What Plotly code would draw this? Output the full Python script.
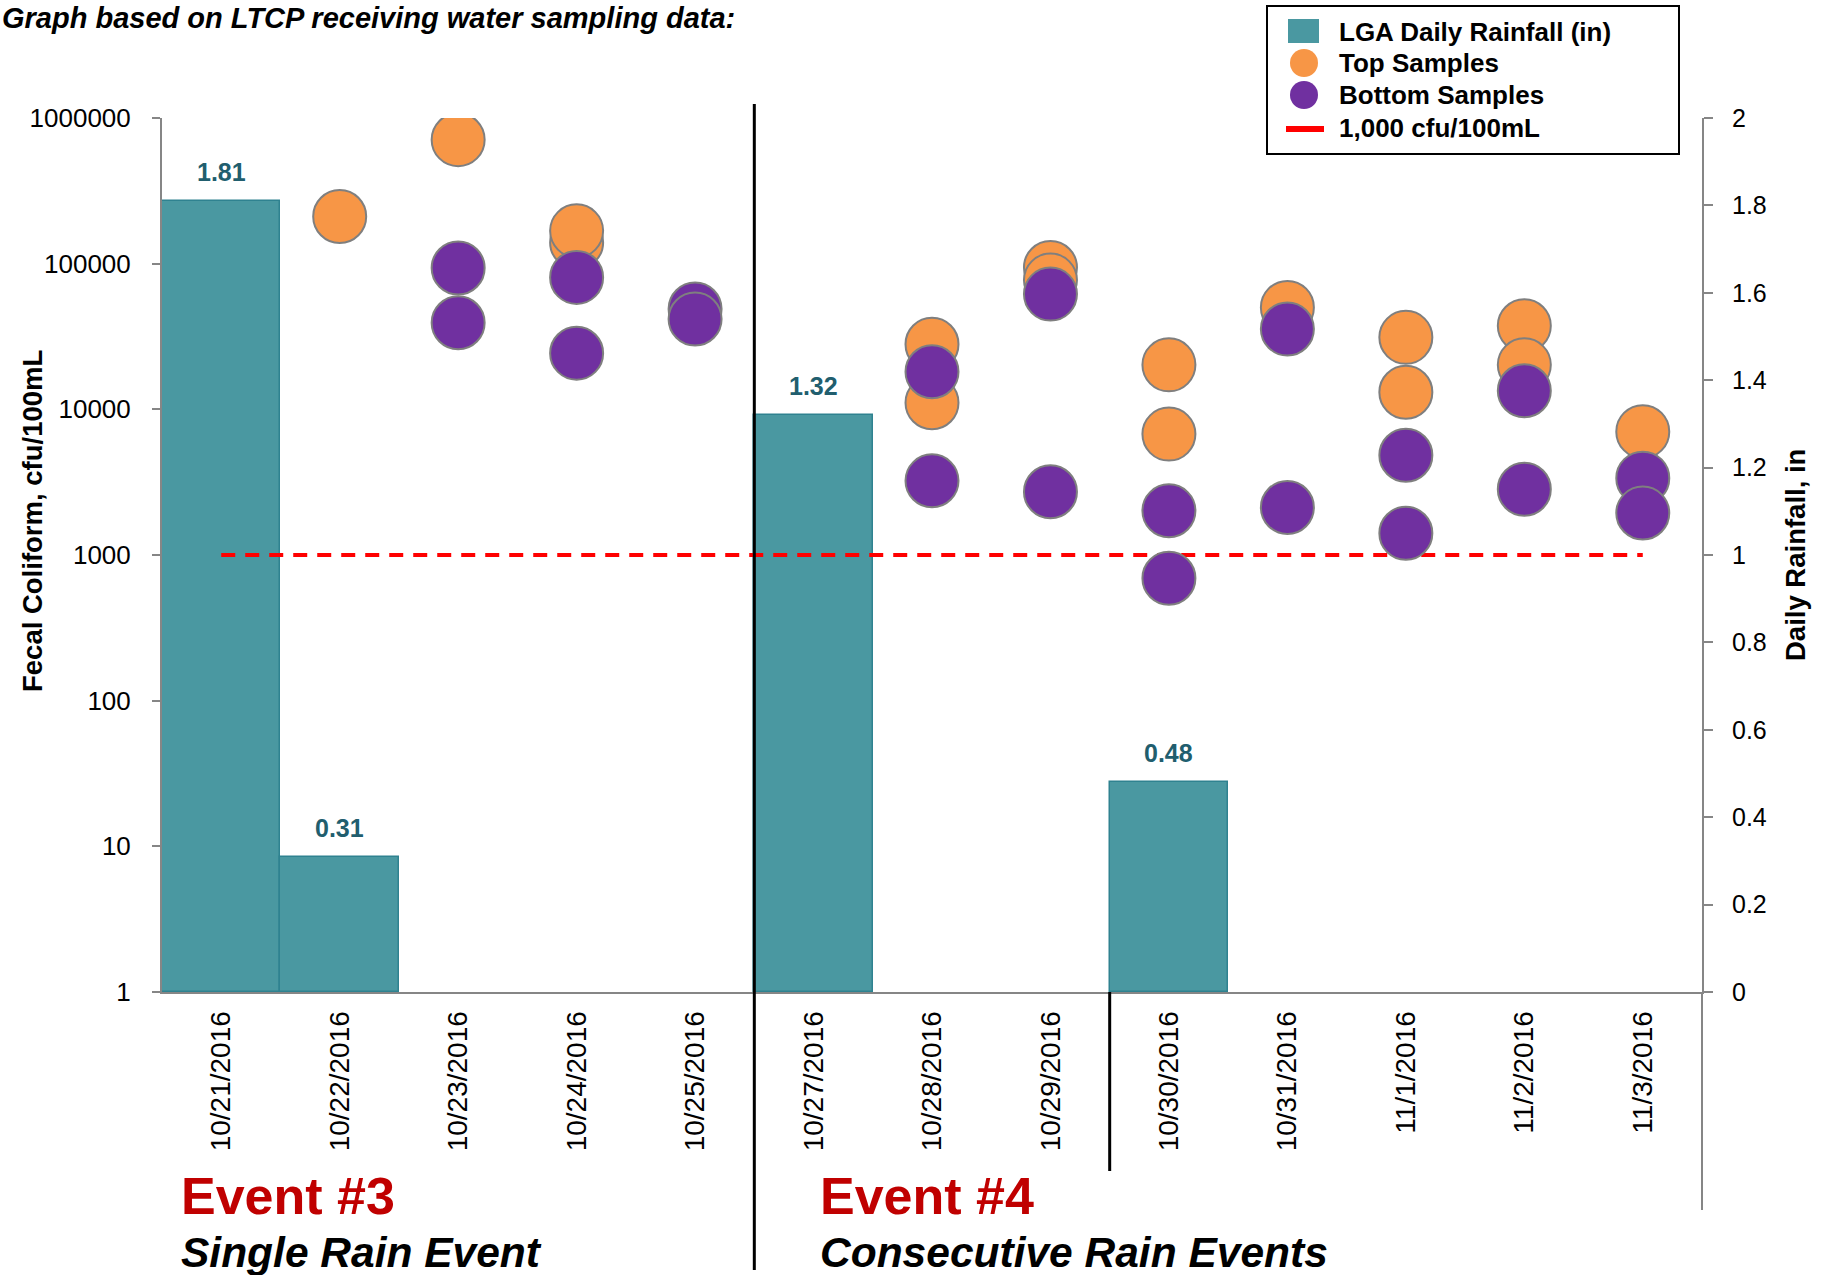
import plotly.graph_objects as go

# ---- data -------------------------------------------------------------
dates = ["10/21/2016", "10/22/2016", "10/23/2016", "10/24/2016", "10/25/2016",
         "10/27/2016", "10/28/2016", "10/29/2016", "10/30/2016", "10/31/2016",
         "11/1/2016", "11/2/2016", "11/3/2016"]
rainfall_in = [1.81, 0.31, 0, 0, 0, 1.32, 0, 0, 0.48, 0, 0, 0, 0]

# fecal coliform, cfu/100mL (two top and two bottom samples per day at most)
top_first = [None, 211000, 710000, 140000, None, None, 28000, 94200, 20200, 50100, 31200, 37500, 7030]
top_second = [None, None, None, 168000, None, None, 11100, 77100, 6760, None, 13100, 20200, None]
bottom_first = [None, None, 93300, 80500, 48800, None, 18100, 61800, 2010, 35600, 4840, 13400, 3370]
bottom_second = [None, None, 39300, 24300, 41700, None, 3230, 2720, 693, 2120, 1410, 2830, 1940]
threshold_cfu = 1000

log_ticks = [1, 10, 100, 1000, 10000, 100000, 1000000]
log_tick_text = ["1", "10", "100", "1000", "10000", "100000", "1000000"]

# ---- page geometry (pixels) ------------------------------------------------
W, H = 1828, 1275
L, R, T, B = 162, 1702, 118, 992


def px_x(x):
    return (x - L) / (R - L)


def px_y(y):
    return (B - y) / (B - T)


FONT = "Liberation Sans, Arial, sans-serif"
TEAL = "#4A98A1"
TEAL_EDGE = "#2F8290"
ORANGE = "#F79646"
PURPLE = "#7030A0"
AXIS_GREY = "#868686"

fig = go.Figure()

# rainfall bars (right axis); dry days get no bar outline on the baseline
fig.add_trace(go.Bar(
    x=dates, y=[v if v > 0 else None for v in rainfall_in],
    name="LGA Daily Rainfall (in)",
    marker=dict(color=TEAL, line=dict(color=TEAL_EDGE, width=1.5)),
    width=1.0, yaxis="y", showlegend=False,
))

# 1,000 cfu/100mL reference line
fig.add_trace(go.Scatter(
    x=dates, y=[threshold_cfu] * len(dates), yaxis="y2", mode="lines",
    name="1,000 cfu/100mL", line=dict(color="#FF0000", width=4, dash="14px,10px"),
    showlegend=False,
))

marker_outline = dict(color="#7F7F7F", width=2)
fig.add_trace(go.Scatter(
    x=dates + dates, y=top_first + top_second, yaxis="y2", mode="markers",
    name="Top Samples",
    marker=dict(size=53, color=ORANGE, line=marker_outline),
    showlegend=False,
))
fig.add_trace(go.Scatter(
    x=dates + dates, y=bottom_first + bottom_second, yaxis="y2", mode="markers",
    name="Bottom Samples",
    marker=dict(size=53, color=PURPLE, line=marker_outline),
    showlegend=False,
))

annotations = []

# rainfall value labels above the bars
for d, v in zip(dates, rainfall_in):
    if v > 0:
        annotations.append(dict(
            x=d, y=v, xref="x", yref="y", text=f"<b>{v:.2f}</b>", showarrow=False,
            yshift=29, font=dict(family=FONT, size=25, color="#215E6E"),
        ))

# title and axis titles
annotations.append(dict(
    x=px_x(0), y=px_y(18), xref="paper", yref="paper", xanchor="left", yanchor="middle",
    text="<b><i>Graph based on LTCP receiving water sampling data:</i></b>", showarrow=False,
    font=dict(family=FONT, size=29, color="black"),
))
annotations.append(dict(
    x=px_x(32), y=px_y(521), xref="paper", yref="paper", xanchor="center", yanchor="middle",
    text="<b>Fecal Coliform, cfu/100mL</b>", textangle=-90, showarrow=False,
    font=dict(family=FONT, size=27.5, color="black"),
))
annotations.append(dict(
    x=px_x(1795), y=px_y(555), xref="paper", yref="paper", xanchor="center", yanchor="middle",
    text="<b>Daily Rainfall, in</b>", textangle=-90, showarrow=False,
    font=dict(family=FONT, size=27.5, color="black"),
))

# event captions
for x0, head, sub in [(181, "Event #3", "Single Rain Event"),
                      (820, "Event #4", "Consecutive Rain Events")]:
    annotations.append(dict(
        x=px_x(x0 - 2), y=px_y(1196), xref="paper", yref="paper", xanchor="left", yanchor="middle",
        text=f"<b>{head}</b>", showarrow=False,
        font=dict(family=FONT, size=52, color="#C00000"),
    ))
    annotations.append(dict(
        x=px_x(x0 - 2), y=px_y(1252), xref="paper", yref="paper", xanchor="left", yanchor="middle",
        text=f"<b><i>{sub}</i></b>", showarrow=False,
        font=dict(family=FONT, size=42.5, color="black"),
    ))

shapes = []
# event separators
shapes.append(dict(type="line", xref="x", yref="paper", x0=4.5, x1=4.5,
                   y0=px_y(1270), y1=px_y(104), line=dict(color="black", width=3)))
shapes.append(dict(type="line", xref="x", yref="paper", x0=7.5, x1=7.5,
                   y0=px_y(1171), y1=0, line=dict(color="black", width=3)))
# right axis continues below the plot
shapes.append(dict(type="line", xref="paper", yref="paper", x0=1, x1=1,
                   y0=px_y(1210), y1=0, line=dict(color=AXIS_GREY, width=2)))

# legend box
leg_items = [("LGA Daily Rainfall (in)", 32), ("Top Samples", 63),
             ("Bottom Samples", 95), ("1,000 cfu/100mL", 128)]
shapes.append(dict(type="rect", xref="paper", yref="paper",
                   x0=px_x(1267), x1=px_x(1679), y0=px_y(154), y1=px_y(6),
                   line=dict(color="black", width=2), fillcolor="white", layer="above"))
shapes.append(dict(type="rect", xref="paper", yref="paper",
                   x0=px_x(1288), x1=px_x(1319), y0=px_y(43), y1=px_y(19),
                   line=dict(width=0), fillcolor=TEAL, layer="above"))
for color, cy in [(ORANGE, 63), (PURPLE, 95)]:
    shapes.append(dict(type="circle", xref="paper", yref="paper",
                       xsizemode="pixel", ysizemode="pixel",
                       xanchor=px_x(1304), yanchor=px_y(cy),
                       x0=-14, x1=14, y0=-14, y1=14,
                       line=dict(width=0), fillcolor=color, layer="above"))
shapes.append(dict(type="line", xref="paper", yref="paper",
                   x0=px_x(1286), x1=px_x(1324), y0=px_y(129), y1=px_y(129),
                   line=dict(color="#FF0000", width=6), layer="above"))
for label, cy in leg_items:
    annotations.append(dict(
        x=px_x(1337), y=px_y(cy), xref="paper", yref="paper", xanchor="left", yanchor="middle",
        text=f"<b>{label}</b>", showarrow=False,
        font=dict(family=FONT, size=26, color="black"),
    ))

fig.update_layout(
    width=W, height=H,
    margin=dict(l=L, r=W - R, t=T, b=H - B, pad=0),
    paper_bgcolor="white", plot_bgcolor="white",
    bargap=0, showlegend=False,
    font=dict(family=FONT, color="black"),
    xaxis=dict(
        type="category", categoryorder="array", categoryarray=dates,
        range=[-0.5, len(dates) - 0.5],
        showline=True, linecolor=AXIS_GREY, linewidth=2,
        ticks="", tickangle=-90, ticklabelstandoff=6,
        tickfont=dict(family=FONT, size=28, color="black"),
        showgrid=False, zeroline=False,
    ),
    yaxis=dict(
        side="right", range=[0, 2], dtick=0.2, tick0=0,
        showline=True, linecolor=AXIS_GREY, linewidth=2,
        ticks="outside", ticklen=9, tickcolor=AXIS_GREY, tickwidth=2,
        ticklabelstandoff=14,
        tickfont=dict(family=FONT, size=25, color="black"),
        showgrid=False, zeroline=False,
    ),
    yaxis2=dict(
        type="log", range=[0, 6], overlaying="y", side="left", anchor="x",
        tickvals=log_ticks, ticktext=log_tick_text,
        showline=True, linecolor=AXIS_GREY, linewidth=2,
        ticks="outside", ticklen=8, tickcolor=AXIS_GREY, tickwidth=2,
        ticklabelstandoff=16,
        tickfont=dict(family=FONT, size=26, color="black"),
        showgrid=False, zeroline=False,
    ),
    annotations=annotations,
    shapes=shapes,
)

fig.write_html("out.html")
